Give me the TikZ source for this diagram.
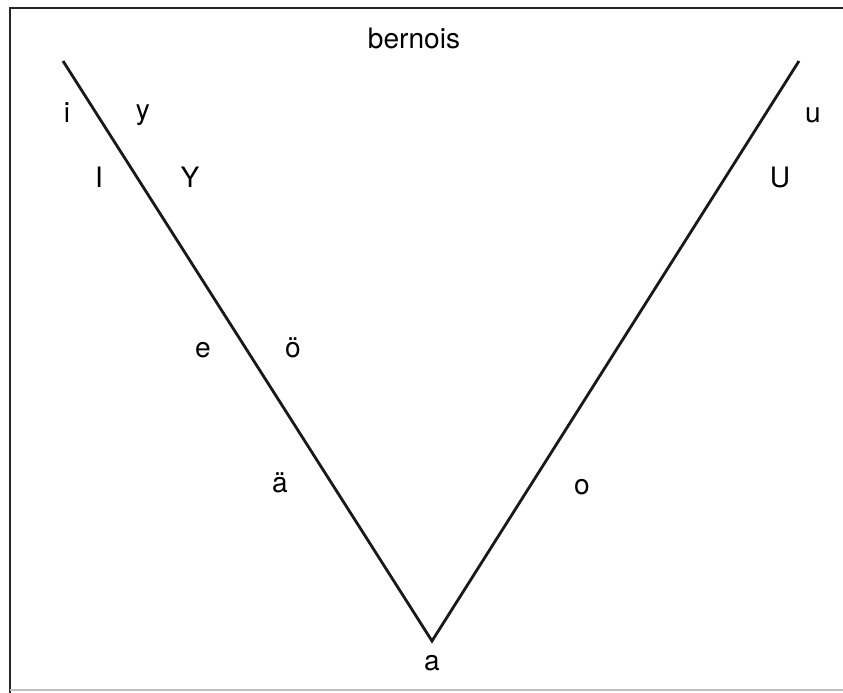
\documentclass[tikz,border=0pt]{standalone}
\usepackage{fontspec}
\setmainfont{TeX Gyre Heros}
\usepackage{tikz}
\usetikzlibrary{positioning}

\begin{document}
\begin{tikzpicture}[
  x=0.02cm, y=-0.02cm,
  vowel/.style={font=\fontsize{16}{18}\selectfont, inner sep=0pt, anchor=center},
  leg/.style={line width=1.6pt, black!90},
  frame/.style={line width=1.6pt, black!85}
]
\useasboundingbox (0,0) rectangle (843,693);
% frame
\draw[frame] (10,693) -- (10,8) -- (843,8);
\draw[line width=1pt, black!25] (10,690) -- (843,690);

% the V
\coordinate (ltop) at (63,61);
\coordinate (apex) at (432,641);
\coordinate (rtop) at (799,61);
\draw[leg] (ltop) -- (apex) -- (rtop);

\node[vowel] (title) at (414,38) {bernois};
\node[vowel] (i) at (67,113) {i};
\node[vowel] (y) at (143,115) {y};
\node[vowel] (I) at (99,177) {I};
\node[vowel] (Y) at (190,177) {Y};
\node[vowel] (e) at (203,350) {e};
\node[vowel] (oe) at (293,348) {ö};
\node[vowel] (ae) at (280,483) {ä};
\node[vowel] (o) at (582,487) {o};
\node[vowel] (u) at (813,115) {u};
\node[vowel] (U) at (780,178) {U};
\node[vowel, below=8pt of apex] (a) {a};
\end{tikzpicture}
\end{document}
